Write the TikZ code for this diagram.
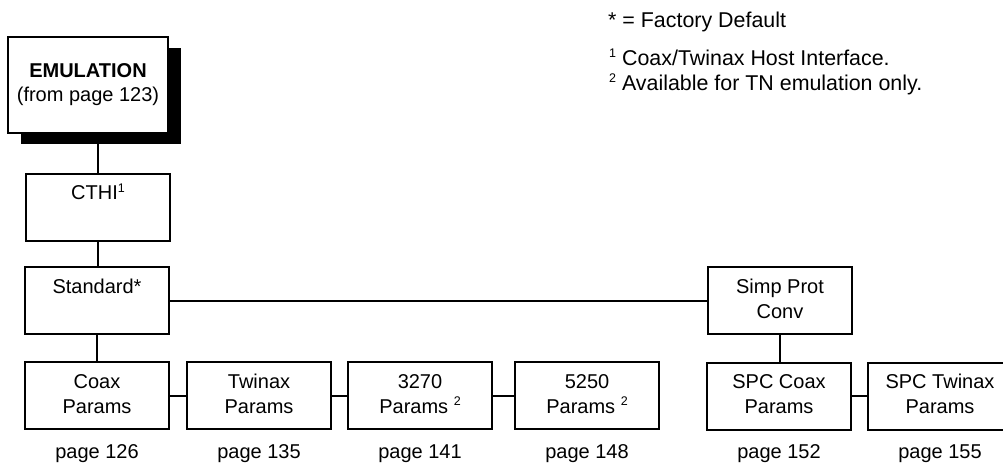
\documentclass[tikz,border=0pt]{standalone}
\usepackage{fontspec}
\setmainfont{Liberation Sans}
\newcommand\fsz{\fontsize{20}{25}\selectfont}
\newcommand\lsz{\fontsize{21.4}{25}\selectfont}
\newcommand\tl[2]{\strut #1\\\strut #2}
\newcommand\mysup[1]{\raisebox{7.5pt}{\fontsize{12.5}{12.5}\selectfont #1}}
\tikzset{
  menubox/.style={draw, line width=2pt, fill=white, minimum width=144pt, minimum height=67pt,
    inner sep=0pt, align=center, font=\fsz},
  pagelbl/.style={anchor=base, inner sep=0pt, font=\fsz},
  legend/.style={anchor=base west, inner sep=0pt, font=\lsz},
  conn/.style={line width=2pt},
}
\begin{document}
\begin{tikzpicture}[x=1pt,y=-1pt]
\useasboundingbox (0,0) rectangle (1003,466);
\clip (0,0) rectangle (1003,466);
% legend
\node[legend] (l0) at (608,27) {* = Factory Default};
\node[legend] (l1) at (609,65) {\mysup{1} Coax/Twinax Host Interface.};
\node[legend] (l2) at (609,90) {\mysup{2} Available for TN emulation only.};
% top box with shadow
\node[fill=black, minimum width=160pt, minimum height=96pt, inner sep=0pt] (shad) at (101,96) {};
\node[menubox, minimum width=160pt, minimum height=96pt, font=\fontsize{20}{24}\selectfont] (emu) at (88,85)
  {\textbf{EMULATION}\\(from page 123)};
% boxes
\node[menubox] (cthi) at (98,207) {\tl{CTHI\mysup{1}}{}};
\node[menubox] (std) at (97,300.5) {\tl{Standard*}{}};
\node[menubox] (simp) at (780,300.5) {\tl{Simp Prot}{Conv}};
\node[menubox] (coax) at (97,395.5) {\tl{Coax}{Params}};
\node[menubox] (twin) at (259,395.5) {\tl{Twinax}{Params}};
\node[menubox] (t3270) at (420,395.5) {\tl{3270}{Params \mysup{2}}};
\node[menubox] (t5250) at (587,395.5) {\tl{5250}{Params \mysup{2}}};
\node[menubox] (spcc) at (779,396) {\tl{SPC Coax}{Params}};
\node[menubox] (spct) at (940,396) {\tl{SPC Twinax}{Params}};
% page labels
\node[pagelbl] (p1) at (97,458) {page 126};
\node[pagelbl] (p2) at (259,458) {page 135};
\node[pagelbl] (p3) at (420,458) {page 141};
\node[pagelbl] (p4) at (587,458) {page 148};
\node[pagelbl] (p5) at (779,458) {page 152};
\node[pagelbl] (p6) at (940,458) {page 155};
% connectors
\draw[conn] (cthi.north) -- (cthi.north |- shad.south);
\draw[conn] (cthi.south) -- (cthi.south |- std.north);
\draw[conn] (std.south) -- (std.south |- coax.north);
\draw[conn] (std.east) -- (simp.west);
\draw[conn] (simp.south) -- (simp.south |- spcc.north);
\draw[conn] (coax.east) -- (twin.west);
\draw[conn] (twin.east) -- (t3270.west);
\draw[conn] (t3270.east) -- (t5250.west);
\draw[conn] (spcc.east) -- (spct.west);
\end{tikzpicture}
\end{document}
